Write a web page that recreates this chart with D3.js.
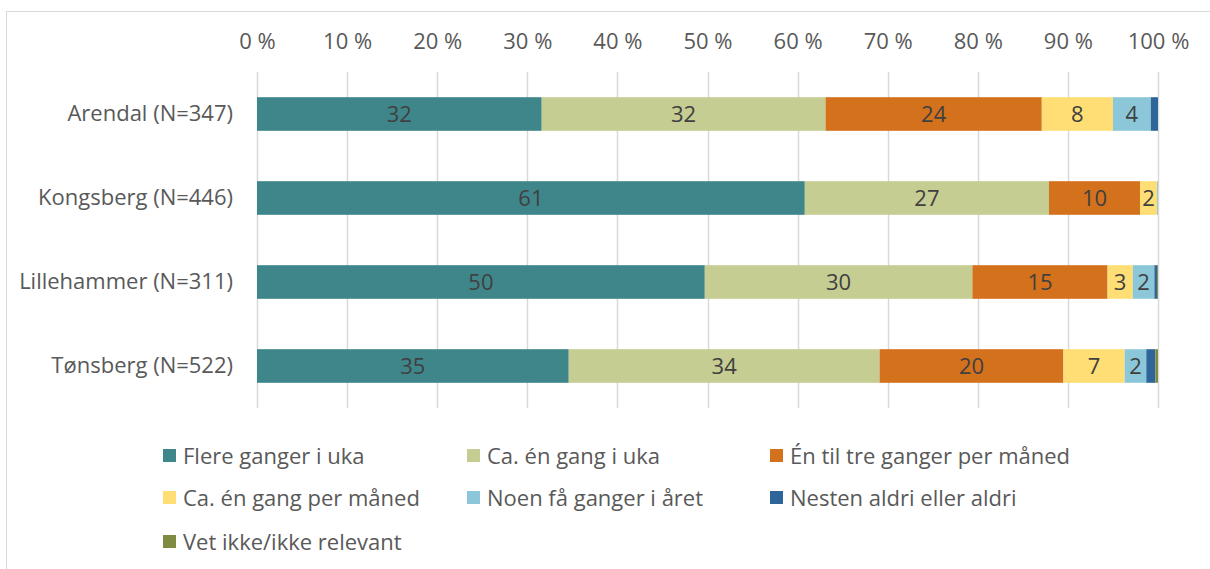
<!DOCTYPE html>
<html>
<head>
<meta charset="utf-8">
<script src="https://cdn.jsdelivr.net/npm/d3@7"></script>
<style>
  body { margin: 0; background: #fff; }
  svg { display: block; font-family: "Open Sans", sans-serif; }
</style>
</head>
<body>
<svg id="chart" width="1210" height="569"></svg>
<script>
// Data (percent)
const cities = ["Arendal (N=347)", "Kongsberg (N=446)", "Lillehammer (N=311)", "Tønsberg (N=522)"];
const categories = ["Flere ganger i uka", "Ca. én gang i uka", "Én til tre ganger per måned",
                    "Ca. én gang per måned", "Noen få ganger i året", "Nesten aldri eller aldri",
                    "Vet ikke/ikke relevant"];
const flere    = [31.6, 60.8, 49.7, 34.6];
const enGang   = [31.5, 27.1, 29.7, 34.5];
const enTilTre = [24.0, 10.1, 15.0, 20.4];
const perMnd   = [7.9, 1.9, 2.8, 6.8];
const faGanger = [4.2, 0.1, 2.4, 2.4];
const aldri    = [0.8, 0.0, 0.3, 1.0];
const vetIkke  = [0.0, 0.0, 0.1, 0.3];
const ticks = [0, 10, 20, 30, 40, 50, 60, 70, 80, 90, 100];

const colors = ["#3f868b", "#c6cd92", "#d4711c", "#ffde75", "#8bc7d9", "#2f6699", "#7e8b40"];
const series_vals = [flere, enGang, enTilTre, perMnd, faGanger, aldri, vetIkke];
const font_size = "22px";

const rows = cities.map((c, i) => {
  const r = {city: c};
  categories.forEach((k, j) => r[k] = series_vals[j][i]);
  return r;
});

const svg = d3.select("#chart");

// frame
svg.append("rect")
  .attr("x", 6.5).attr("y", 11.5)
  .attr("width", 1220).attr("height", 600)
  .attr("fill", "none").attr("stroke", "#d9d9d9");

const x = d3.scaleLinear().domain([0, 100]).range([257, 1158]);
const y = d3.scaleBand().domain(cities).range([72, 408]).paddingInner(0.6).paddingOuter(0.3);

// gridlines
svg.append("g")
  .selectAll("line")
  .data(ticks)
  .enter().append("line")
  .attr("x1", d => Math.round(x(d)) + 0.5)
  .attr("x2", d => Math.round(x(d)) + 0.5)
  .attr("y1", 72).attr("y2", 408)
  .attr("stroke", "#d9d9d9").attr("stroke-width", 1.5);

// top axis labels
const ax = svg.append("g")
  .attr("transform", "translate(0,49)")
  .call(d3.axisTop(x).tickValues(ticks).tickFormat(d => d + " %").tickSize(0).tickPadding(0));
ax.select(".domain").remove();
ax.selectAll("text")
  .attr("fill", "#595959")
  .style("font-size", font_size)
  .style("font-family", "'Open Sans', sans-serif");

// stacked bars
const series = d3.stack().keys(categories)(rows);

const layer = svg.append("g")
  .selectAll("g")
  .data(series)
  .enter().append("g")
  .attr("fill", (d, i) => colors[i]);

layer.selectAll("rect")
  .data(d => d)
  .enter().append("rect")
  .attr("x", d => x(d[0]))
  .attr("width", d => x(d[1]) - x(d[0]))
  .attr("y", d => y(d.data.city))
  .attr("height", y.bandwidth());

layer.selectAll("text")
  .data(d => d.filter(p => Math.round(p[1] - p[0]) >= 2))
  .enter().append("text")
  .attr("x", d => (x(d[0]) + x(d[1])) / 2)
  .attr("y", d => y(d.data.city) + y.bandwidth() / 2)
  .attr("dy", "0.36em")
  .attr("text-anchor", "middle")
  .attr("fill", "#404040")
  .style("font-size", font_size)
  .text(d => Math.round(d[1] - d[0]));

// category axis
const ay = svg.append("g")
  .attr("transform", "translate(233,0)")
  .call(d3.axisLeft(y).tickSize(0).tickPadding(0));
ay.select(".domain").remove();
ay.selectAll("text")
  .attr("fill", "#595959")
  .style("font-size", font_size)
  .style("font-family", "'Open Sans', sans-serif");

// legend
const legendX = [163, 467, 770];
const legendY = [456, 498, 542];
const legend = svg.append("g")
  .selectAll("g")
  .data(categories)
  .enter().append("g")
  .attr("transform", (d, i) => `translate(${legendX[i % 3]},${legendY[Math.floor(i / 3)]})`);

legend.append("rect")
  .attr("x", 0).attr("y", -7)
  .attr("width", 13).attr("height", 13)
  .attr("fill", (d, i) => colors[i]);

legend.append("text")
  .attr("x", 20).attr("y", 0)
  .attr("dy", "0.35em")
  .attr("fill", "#595959")
  .style("font-size", font_size)
  .text(d => d);
</script>
</body>
</html>
